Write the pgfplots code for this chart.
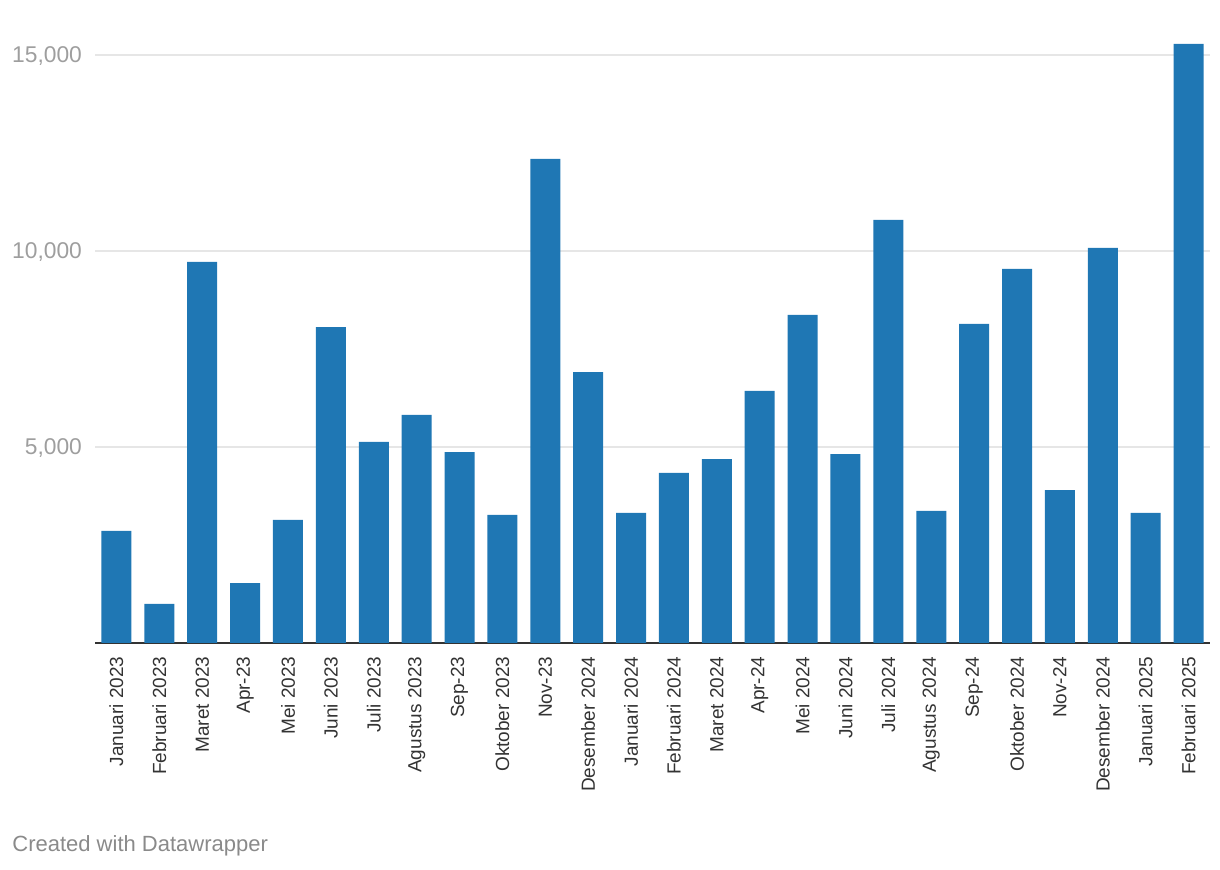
\documentclass[border=0pt]{standalone}
\usepackage{fontspec}
\setmainfont{Liberation Sans}
\usepackage{pgfplots}
\pgfplotsset{compat=1.18}
\definecolor{barblue}{HTML}{1F77B4}
\definecolor{gridgray}{HTML}{E6E6E6}
\definecolor{ticknum}{HTML}{9E9E9E}
\definecolor{labdark}{HTML}{333333}
\definecolor{footgray}{HTML}{8A8A8A}
\begin{document}
\begin{tikzpicture}
% 1 px of the reference = 0.5pt
\useasboundingbox (0,0) rectangle (610pt,435pt);
\begin{axis}[
  at={(47.5pt,113.5pt)}, anchor=south west,
  scale only axis,
  width=557.5pt, height=299.9pt,
  xmin=-0.5, xmax=25.5,
  ymin=0, ymax=15300,
  ybar, bar width=15pt,
  axis x line*=bottom, axis y line*=left,
  x axis line style={draw=labdark, line width=1pt},
  y axis line style={draw=none},
  tick style={draw=none},
  ytick={5000,10000,15000},
  scaled y ticks=false,
  /pgf/number format/assume math mode=true,
  /pgf/number format/1000 sep={,},
  ymajorgrids=true,
  grid style={draw=gridgray, line width=0.6pt},
  yticklabel style={font=\fontsize{11.4}{13}\selectfont, text=ticknum, xshift=-3pt, yshift=-0.7pt},
  xtick={0,...,25},
  xticklabels={Januari 2023, Februari 2023, Maret 2023, Apr-23, Mei 2023, Juni 2023, Juli 2023, Agustus 2023, Sep-23, Oktober 2023, Nov-23, Desember 2024, Januari 2024, Februari 2024, Maret 2024, Apr-24, Mei 2024, Juni 2024, Juli 2024, Agustus 2024, Sep-24, Oktober 2024, Nov-24, Desember 2024, Januari 2025, Februari 2025},
  xticklabel style={yshift=1pt, rotate=90, anchor=east, font=\fontsize{9.5}{11}\selectfont, text=labdark},
]
\addplot[fill=barblue, draw=none] coordinates {
  (0, 2860) (1, 1000) (2, 9720) (3, 1530) (4, 3140) (5, 8060)
  (6, 5130) (7, 5820) (8, 4870) (9, 3270) (10, 12350) (11, 6910)
  (12, 3320) (13, 4340) (14, 4690) (15, 6430) (16, 8370) (17, 4820)
  (18, 10790) (19, 3370) (20, 8140) (21, 9540) (22, 3900) (23, 10080)
  (24, 3320) (25, 15280)
};
\end{axis}
\node[anchor=base west, font=\fontsize{11}{13}\selectfont, text=footgray, inner sep=0pt] at (6pt,9pt) {Created with Datawrapper};
\end{tikzpicture}
\end{document}
